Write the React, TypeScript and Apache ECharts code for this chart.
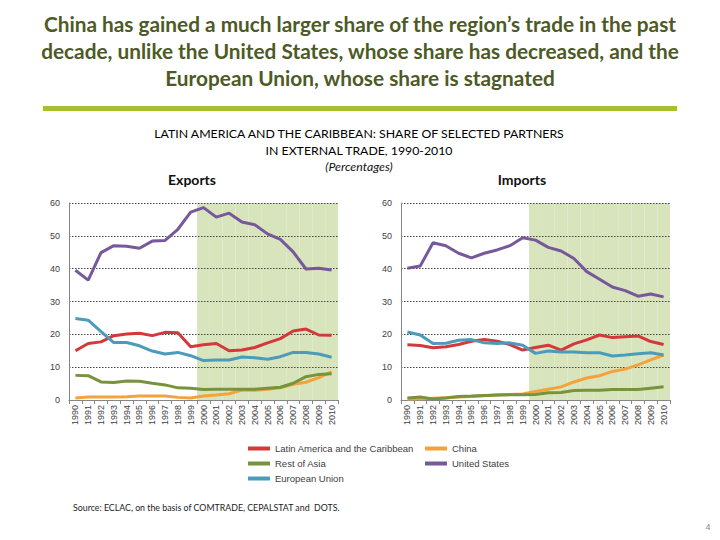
import React, { useEffect, useRef } from "react";
import * as echarts from "echarts";

const years = ["1990","1991","1992","1993","1994","1995","1996","1997","1998","1999","2000","2001","2002","2003","2004","2005","2006","2007","2008","2009","2010"];
const shadedFrom = "2000";
const yTicks = { min: 0, max: 60, interval: 10 };

const seriesNames = ["Latin America and the Caribbean", "China", "Rest of Asia", "United States", "European Union"];
const seriesColors = ["#d5373a", "#f3a23c", "#77933c", "#76599b", "#4b9bbb"];

const exportsLAC = [15.0,17.2,17.7,19.6,20.1,20.3,19.6,20.6,20.5,16.2,16.8,17.2,15.0,15.2,16.0,17.4,18.7,21.0,21.6,19.8,19.7];
const exportsChina = [0.6,0.9,0.9,0.9,1.0,1.2,1.2,1.2,0.8,0.6,1.2,1.5,1.9,3.0,3.0,3.3,3.7,4.8,5.4,6.8,8.6];
const exportsRestAsia = [7.5,7.4,5.5,5.3,5.8,5.7,5.1,4.6,3.7,3.6,3.2,3.3,3.3,3.3,3.3,3.6,3.9,5.1,7.1,7.8,8.0];
const exportsUS = [39.5,36.5,44.9,47.0,46.8,46.2,48.4,48.6,52.0,57.2,58.6,55.7,56.9,54.2,53.4,50.6,48.9,45.1,39.9,40.1,39.6];
const exportsEU = [24.8,24.3,20.8,17.5,17.5,16.5,14.9,14.0,14.5,13.5,12.0,12.2,12.2,13.1,12.9,12.4,13.2,14.5,14.5,14.0,13.0];

const importsLAC = [16.8,16.6,15.9,16.2,16.9,17.9,18.4,17.9,16.9,15.2,16.0,16.7,15.2,17.1,18.3,19.8,19.0,19.3,19.5,17.8,16.9];
const importsChina = [0.3,0.4,0.5,0.7,0.9,1.1,1.3,1.5,1.7,1.8,2.6,3.3,4.0,5.5,6.7,7.4,8.7,9.4,10.7,12.2,13.7];
const importsRestAsia = [0.6,0.9,0.3,0.6,1.1,1.2,1.4,1.5,1.6,1.6,1.7,2.2,2.3,2.9,3.0,3.0,3.2,3.2,3.2,3.6,4.0];
const importsUS = [40.1,40.8,47.9,47.0,44.7,43.3,44.7,45.7,47.0,49.4,48.7,46.5,45.4,43.1,39.1,36.8,34.4,33.3,31.6,32.3,31.4];
const importsEU = [20.7,19.8,17.2,17.3,18.2,18.4,17.4,17.2,17.4,16.7,14.2,14.9,14.6,14.6,14.4,14.4,13.4,13.7,14.1,14.4,13.7];

const exportsData = [exportsLAC, exportsChina, exportsRestAsia, exportsUS, exportsEU];
const importsData = [importsLAC, importsChina, importsRestAsia, importsUS, importsEU];

const titleLines = [
  "China has gained a much larger share of the region\u2019s trade in the past",
  "decade, unlike the United States, whose share has decreased, and the",
  "European Union, whose share is stagnated",
];
const subtitleLines = [
  "LATIN AMERICA AND THE CARIBBEAN: SHARE OF SELECTED PARTNERS",
  "IN EXTERNAL TRADE, 1990-2010",
];
const unitsText = "(Percentages)";
const panelTitles = ["Exports", "Imports"];
const sourceText = "Source: ECLAC, on the basis of COMTRADE, CEPALSTAT and  DOTS.";
const pageNumber = "4";

export default function App() {
  const ref = useRef<HTMLDivElement>(null);
  useEffect(() => {
    if (!ref.current) return;
    const chart = echarts.init(ref.current, undefined, { renderer: "svg" });
    const axisFont = "Liberation Sans";
    const grids = [
      { left: 69, top: 203, width: 269, height: 197 },
      { left: 401, top: 203, width: 269, height: 197 },
    ];
    const shadeData = years.map((y) => (y >= shadedFrom ? yTicks.max : null));
    const xAxes = grids.map((_, i) => ({
      type: "category",
      gridIndex: i,
      data: years,
      boundaryGap: true,
      axisLine: { show: true, lineStyle: { color: "#868686", width: 1 } },
      axisTick: { show: true, interval: 0, length: 4, lineStyle: { color: "#868686" } },
      axisLabel: { interval: 0, rotate: 90, fontSize: 9, color: "#404040", fontFamily: axisFont, margin: 5 },
      z: 1,
    }));
    const yAxes = grids.map((_, i) => ({
      type: "value",
      gridIndex: i,
      min: yTicks.min,
      max: yTicks.max,
      interval: yTicks.interval,
      axisLine: { show: true, lineStyle: { color: "#868686", width: 1 } },
      axisTick: { show: false },
      axisLabel: { fontSize: 9, color: "#404040", fontFamily: axisFont, margin: 9 },
      splitLine: { show: true, lineStyle: { color: "#444", type: [1.5, 1.5], width: 1 } },
      z: 1,
    }));
    const series: any[] = [];
    [exportsData, importsData].forEach((group, gi) => {
      series.push({
        type: "bar",
        name: "shade" + gi,
        xAxisIndex: gi,
        yAxisIndex: gi,
        data: shadeData,
        barCategoryGap: "0%",
        itemStyle: { color: "#d8e4bc" },
        silent: true,
        z: 0,
      });
      group.forEach((d, si) => {
        series.push({
          type: "line",
          name: seriesNames[si],
          xAxisIndex: gi,
          yAxisIndex: gi,
          data: d,
          symbol: "none",
          lineStyle: { width: 3, color: seriesColors[si] },
          itemStyle: { color: seriesColors[si] },
          z: 3,
        });
      });
    });
    const legendBase = {
      orient: "vertical",
      top: 443,
      padding: 0,
      itemWidth: 22,
      itemHeight: 4,
      itemGap: 4,
      icon: "rect",
      textStyle: { fontSize: 9.5, color: "#404040", fontFamily: axisFont, lineHeight: 11 },
    };
    const titleFont = "bold 20.8px Lato";
    const graphic: any[] = [
      ...titleLines.map((t, i) => ({
        type: "text",
        x: 360,
        y: 23 + i * 27,
        style: { text: t, font: titleFont, fill: "#4d5a26", textAlign: "center", textVerticalAlign: "middle" },
      })),
      { type: "rect", shape: { x: 43, y: 106, width: 634, height: 5 }, style: { fill: "#a8bf33" } },
      ...subtitleLines.map((t, i) => ({
        type: "text",
        x: 359,
        y: 133 + i * 17,
        style: { text: t, font: "12.3px Lato", fill: "#000", textAlign: "center", textVerticalAlign: "middle" },
      })),
      {
        type: "text",
        x: 359,
        y: 166,
        style: { text: unitsText, font: "italic 12.3px Lato", fill: "#111", textAlign: "center", textVerticalAlign: "middle" },
      },
      {
        type: "text",
        x: 192,
        y: 179,
        style: { text: panelTitles[0], font: "bold 14px Lato", fill: "#111", textAlign: "center", textVerticalAlign: "middle" },
      },
      {
        type: "text",
        x: 522,
        y: 179,
        style: { text: panelTitles[1], font: "bold 14px Lato", fill: "#111", textAlign: "center", textVerticalAlign: "middle" },
      },
      {
        type: "text",
        x: 73,
        y: 507,
        style: { text: sourceText, font: "8.8px Lato", fill: "#222", textAlign: "left", textVerticalAlign: "middle" },
      },
      {
        type: "text",
        x: 708,
        y: 527,
        style: { text: pageNumber, font: "9px Liberation Sans", fill: "#8a8a8a", textAlign: "center", textVerticalAlign: "middle" },
      },
    ];
    chart.setOption({
      animation: false,
      backgroundColor: "#ffffff",
      grid: grids,
      xAxis: xAxes,
      yAxis: yAxes,
      series,
      legend: [
        { ...legendBase, left: 248, data: [seriesNames[0], seriesNames[2], seriesNames[4]] },
        { ...legendBase, left: 425, data: [seriesNames[1], seriesNames[3]] },
      ],
      graphic,
    });
    return () => chart.dispose();
  }, []);
  return <div ref={ref} style={{ position: "fixed", left: 0, top: 0, width: 720, height: 540 }} />;
}
